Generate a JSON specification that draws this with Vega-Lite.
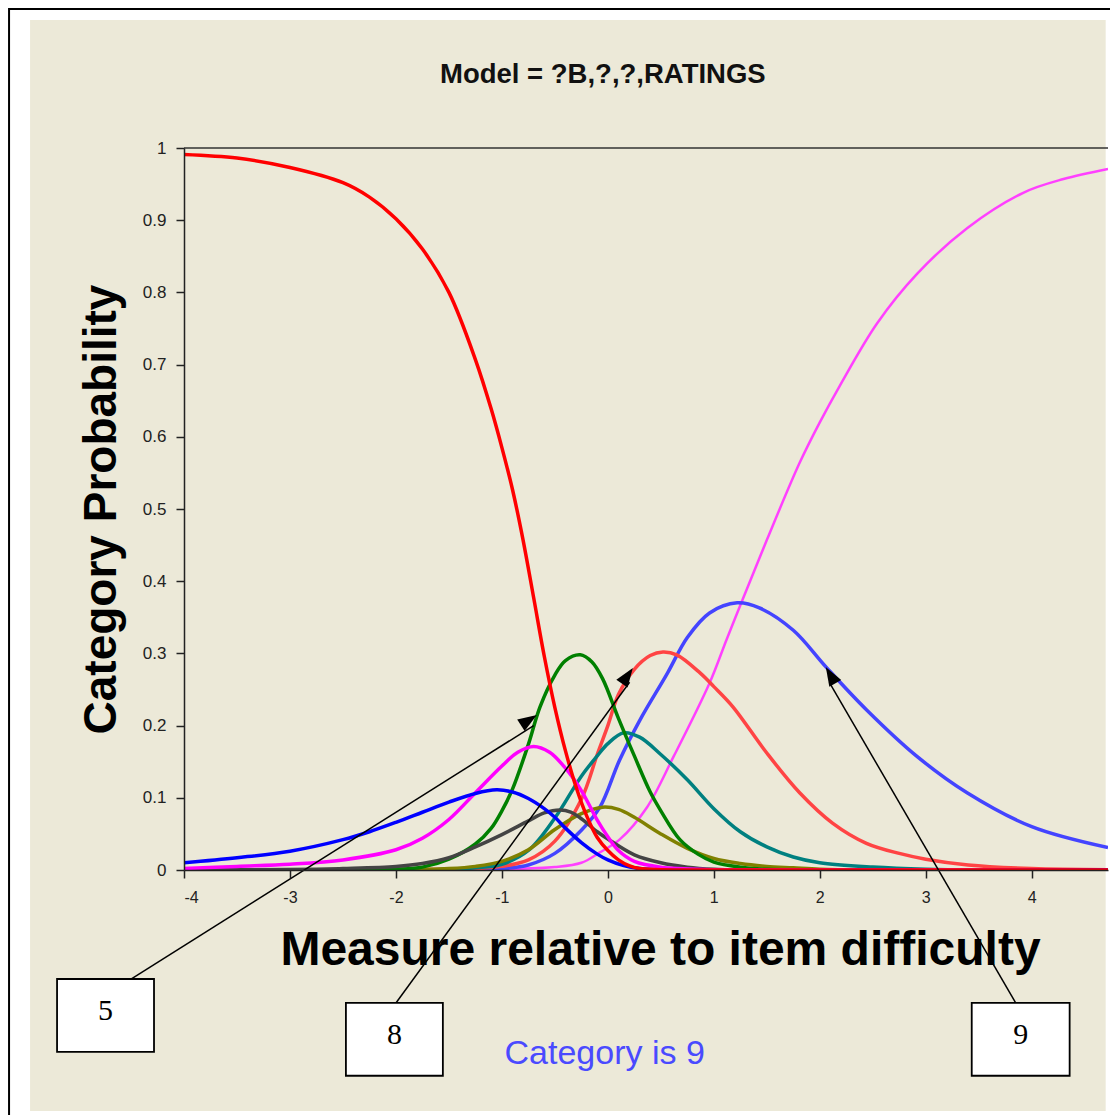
{
  "$schema": "https://vega.github.io/schema/vega-lite/v6.json",
  "width": 924,
  "height": 722,
  "autosize": {"type": "none"},
  "padding": {"left": 184, "top": 148, "right": 2, "bottom": 245},
  "background": "white",
  "config": {
    "view": {"stroke": null},
    "font": "Liberation Sans",
    "axis": {"labelFont": "Liberation Sans", "titleFont": "Liberation Sans", "grid": false}
  },
  "datasets": {
    "curves": [
      {"c":"10","x":-4,"p":0},{"c":"10","x":-1.5,"p":0.0003},{"c":"10","x":-1,"p":0.001},{"c":"10","x":-0.5,"p":0.004},{"c":"10","x":-0.25,"p":0.01},{"c":"10","x":-0.08,"p":0.024},{"c":"10","x":0.11,"p":0.042},{"c":"10","x":0.37,"p":0.087},{"c":"10","x":0.62,"p":0.157},{"c":"10","x":0.96,"p":0.259},{"c":"10","x":1.12,"p":0.319},{"c":"10","x":1.27,"p":0.374},{"c":"10","x":1.5,"p":0.457},{"c":"10","x":1.81,"p":0.564},{"c":"10","x":2.0,"p":0.62},{"c":"10","x":2.19,"p":0.671},{"c":"10","x":2.54,"p":0.757},{"c":"10","x":2.92,"p":0.826},{"c":"10","x":3.39,"p":0.889},{"c":"10","x":3.92,"p":0.938},{"c":"10","x":4.3,"p":0.957},{"c":"10","x":4.72,"p":0.971},
      {"c":"9","x":-4,"p":0},{"c":"9","x":-1.5,"p":0.0005},{"c":"9","x":-1,"p":0.002},{"c":"9","x":-0.75,"p":0.007},{"c":"9","x":-0.5,"p":0.023},{"c":"9","x":-0.25,"p":0.055},{"c":"9","x":-0.075,"p":0.087},{"c":"9","x":0.11,"p":0.152},{"c":"9","x":0.3,"p":0.207},{"c":"9","x":0.56,"p":0.272},{"c":"9","x":0.75,"p":0.322},{"c":"9","x":0.96,"p":0.356},{"c":"9","x":1.22,"p":0.37},{"c":"9","x":1.43,"p":0.363},{"c":"9","x":1.75,"p":0.332},{"c":"9","x":2.06,"p":0.281},{"c":"9","x":2.44,"p":0.222},{"c":"9","x":2.92,"p":0.157},{"c":"9","x":3.39,"p":0.107},{"c":"9","x":4.0,"p":0.06},{"c":"9","x":4.72,"p":0.031},
      {"c":"8","x":-4,"p":0},{"c":"8","x":-1.5,"p":0.001},{"c":"8","x":-1.25,"p":0.002},{"c":"8","x":-1,"p":0.005},{"c":"8","x":-0.75,"p":0.014},{"c":"8","x":-0.5,"p":0.04},{"c":"8","x":-0.25,"p":0.098},{"c":"8","x":-0.1,"p":0.16},{"c":"8","x":0,"p":0.2},{"c":"8","x":0.1,"p":0.243},{"c":"8","x":0.25,"p":0.278},{"c":"8","x":0.4,"p":0.297},{"c":"8","x":0.52,"p":0.302},{"c":"8","x":0.65,"p":0.298},{"c":"8","x":0.87,"p":0.273},{"c":"8","x":1.0,"p":0.254},{"c":"8","x":1.18,"p":0.226},{"c":"8","x":1.5,"p":0.162},{"c":"8","x":1.81,"p":0.107},{"c":"8","x":2.12,"p":0.065},{"c":"8","x":2.44,"p":0.037},{"c":"8","x":2.75,"p":0.023},{"c":"8","x":3.0,"p":0.015},{"c":"8","x":3.4,"p":0.007},{"c":"8","x":4.0,"p":0.002},{"c":"8","x":4.72,"p":0.0005},
      {"c":"7","x":-4,"p":0},{"c":"7","x":-1.75,"p":0},{"c":"7","x":-1.5,"p":0.001},{"c":"7","x":-1.25,"p":0.003},{"c":"7","x":-1,"p":0.008},{"c":"7","x":-0.75,"p":0.027},{"c":"7","x":-0.5,"p":0.072},{"c":"7","x":-0.25,"p":0.13},{"c":"7","x":-0.1,"p":0.158},{"c":"7","x":0,"p":0.175},{"c":"7","x":0.15,"p":0.19},{"c":"7","x":0.3,"p":0.184},{"c":"7","x":0.5,"p":0.16},{"c":"7","x":0.75,"p":0.125},{"c":"7","x":1.0,"p":0.085},{"c":"7","x":1.25,"p":0.053},{"c":"7","x":1.5,"p":0.032},{"c":"7","x":1.75,"p":0.018},{"c":"7","x":2.0,"p":0.01},{"c":"7","x":2.5,"p":0.004},{"c":"7","x":3.0,"p":0.001},{"c":"7","x":3.5,"p":0},{"c":"7","x":4.72,"p":0},
      {"c":"6","x":-4,"p":0},{"c":"6","x":-2,"p":0},{"c":"6","x":-1.5,"p":0.002},{"c":"6","x":-1.25,"p":0.005},{"c":"6","x":-1,"p":0.012},{"c":"6","x":-0.75,"p":0.028},{"c":"6","x":-0.5,"p":0.056},{"c":"6","x":-0.25,"p":0.078},{"c":"6","x":-0.05,"p":0.087},{"c":"6","x":0.1,"p":0.084},{"c":"6","x":0.25,"p":0.073},{"c":"6","x":0.5,"p":0.05},{"c":"6","x":0.75,"p":0.03},{"c":"6","x":1.0,"p":0.016},{"c":"6","x":1.25,"p":0.009},{"c":"6","x":1.5,"p":0.005},{"c":"6","x":1.75,"p":0.003},{"c":"6","x":2.0,"p":0.001},{"c":"6","x":2.5,"p":0},{"c":"6","x":4.72,"p":0},
      {"c":"5","x":-4,"p":0},{"c":"5","x":-2.25,"p":0},{"c":"5","x":-2,"p":0.001},{"c":"5","x":-1.75,"p":0.004},{"c":"5","x":-1.5,"p":0.015},{"c":"5","x":-1.25,"p":0.036},{"c":"5","x":-1.1,"p":0.058},{"c":"5","x":-1,"p":0.082},{"c":"5","x":-0.9,"p":0.112},{"c":"5","x":-0.75,"p":0.174},{"c":"5","x":-0.64,"p":0.226},{"c":"5","x":-0.5,"p":0.27},{"c":"5","x":-0.4,"p":0.29},{"c":"5","x":-0.26,"p":0.298},{"c":"5","x":-0.15,"p":0.288},{"c":"5","x":-0.05,"p":0.265},{"c":"5","x":0.1,"p":0.21},{"c":"5","x":0.25,"p":0.158},{"c":"5","x":0.4,"p":0.108},{"c":"5","x":0.5,"p":0.082},{"c":"5","x":0.68,"p":0.042},{"c":"5","x":0.85,"p":0.022},{"c":"5","x":1.0,"p":0.011},{"c":"5","x":1.25,"p":0.004},{"c":"5","x":1.5,"p":0.001},{"c":"5","x":2.0,"p":0},{"c":"5","x":4.72,"p":0},
      {"c":"4","x":-4,"p":0},{"c":"4","x":-2.75,"p":0.001},{"c":"4","x":-2.5,"p":0.002},{"c":"4","x":-2,"p":0.005},{"c":"4","x":-1.75,"p":0.009},{"c":"4","x":-1.5,"p":0.017},{"c":"4","x":-1.25,"p":0.032},{"c":"4","x":-1,"p":0.049},{"c":"4","x":-0.75,"p":0.068},{"c":"4","x":-0.6,"p":0.079},{"c":"4","x":-0.45,"p":0.083},{"c":"4","x":-0.35,"p":0.08},{"c":"4","x":-0.25,"p":0.071},{"c":"4","x":-0.1,"p":0.053},{"c":"4","x":0,"p":0.043},{"c":"4","x":0.25,"p":0.021},{"c":"4","x":0.5,"p":0.01},{"c":"4","x":0.75,"p":0.004},{"c":"4","x":1.0,"p":0.001},{"c":"4","x":1.25,"p":0},{"c":"4","x":4.72,"p":0},
      {"c":"3","x":-4,"p":0.002},{"c":"3","x":-3.5,"p":0.005},{"c":"3","x":-3,"p":0.008},{"c":"3","x":-2.5,"p":0.014},{"c":"3","x":-2,"p":0.028},{"c":"3","x":-1.75,"p":0.044},{"c":"3","x":-1.5,"p":0.07},{"c":"3","x":-1.25,"p":0.107},{"c":"3","x":-1,"p":0.144},{"c":"3","x":-0.85,"p":0.163},{"c":"3","x":-0.7,"p":0.171},{"c":"3","x":-0.55,"p":0.163},{"c":"3","x":-0.4,"p":0.141},{"c":"3","x":-0.25,"p":0.11},{"c":"3","x":-0.1,"p":0.069},{"c":"3","x":0,"p":0.046},{"c":"3","x":0.1,"p":0.027},{"c":"3","x":0.25,"p":0.012},{"c":"3","x":0.5,"p":0.004},{"c":"3","x":1.0,"p":0.0005},{"c":"3","x":1.5,"p":0},{"c":"3","x":4.72,"p":0},
      {"c":"2","x":-4,"p":0.01},{"c":"2","x":-3.5,"p":0.017},{"c":"2","x":-3,"p":0.026},{"c":"2","x":-2.5,"p":0.042},{"c":"2","x":-2.25,"p":0.053},{"c":"2","x":-2,"p":0.066},{"c":"2","x":-1.75,"p":0.08},{"c":"2","x":-1.5,"p":0.094},{"c":"2","x":-1.25,"p":0.106},{"c":"2","x":-1.05,"p":0.111},{"c":"2","x":-0.9,"p":0.108},{"c":"2","x":-0.75,"p":0.099},{"c":"2","x":-0.6,"p":0.085},{"c":"2","x":-0.5,"p":0.073},{"c":"2","x":-0.4,"p":0.058},{"c":"2","x":-0.25,"p":0.038},{"c":"2","x":-0.1,"p":0.022},{"c":"2","x":0,"p":0.014},{"c":"2","x":0.15,"p":0.006},{"c":"2","x":0.3,"p":0.002},{"c":"2","x":0.5,"p":0},{"c":"2","x":4.72,"p":0},
      {"c":"1","x":-4,"p":0.991},{"c":"1","x":-3.5,"p":0.986},{"c":"1","x":-3,"p":0.973},{"c":"1","x":-2.5,"p":0.952},{"c":"1","x":-2.25,"p":0.932},{"c":"1","x":-2,"p":0.902},{"c":"1","x":-1.75,"p":0.86},{"c":"1","x":-1.5,"p":0.8},{"c":"1","x":-1.25,"p":0.707},{"c":"1","x":-1.1,"p":0.638},{"c":"1","x":-1,"p":0.585},{"c":"1","x":-0.9,"p":0.527},{"c":"1","x":-0.8,"p":0.457},{"c":"1","x":-0.7,"p":0.377},{"c":"1","x":-0.6,"p":0.296},{"c":"1","x":-0.5,"p":0.225},{"c":"1","x":-0.4,"p":0.165},{"c":"1","x":-0.3,"p":0.115},{"c":"1","x":-0.2,"p":0.075},{"c":"1","x":-0.1,"p":0.045},{"c":"1","x":0,"p":0.027},{"c":"1","x":0.1,"p":0.014},{"c":"1","x":0.2,"p":0.006},{"c":"1","x":0.3,"p":0.002},{"c":"1","x":0.5,"p":0.0004},{"c":"1","x":1,"p":0},{"c":"1","x":2,"p":0},{"c":"1","x":3,"p":0},{"c":"1","x":4,"p":0},{"c":"1","x":4.72,"p":0}
    ]
  },
  "layer": [
    {
      "data": {"values": [{}]},
      "mark": {"type": "rect", "fill": "#ECE9D8", "clip": false},
      "encoding": {
        "x": {
          "datum": -5.4528, "type": "quantitative",
          "scale": {"domain": [-4, 4.72], "nice": false, "zero": false},
          "axis": {
            "values": [-4, -3, -2, -1, 0, 1, 2, 3, 4],
            "labelExpr": "'' + datum.value",
            "labelFontSize": 16, "labelColor": "#222222", "labelPadding": 11,
            "tickSize": 8, "tickColor": "#222222", "tickWidth": 1.5,
            "domainColor": "#222222", "domainWidth": 1.5, "grid": false,
            "title": "Measure relative to item difficulty",
            "titleFontSize": 48, "titleFontWeight": "bold", "titleColor": "black",
            "titlePadding": 21, "titleX": 476, "zindex": 1
          }
        },
        "x2": {"datum": 4.6981},
        "y": {
          "datum": 1.1773, "type": "quantitative",
          "scale": {"domain": [0, 1], "nice": false, "zero": false},
          "axis": {
            "values": [0, 0.1, 0.2, 0.3, 0.4, 0.5, 0.6, 0.7, 0.8, 0.9, 1],
            "format": "~g",
            "labelFontSize": 17, "labelColor": "#222222", "labelPadding": 10,
            "tickSize": 8, "tickColor": "#222222", "tickWidth": 1.5,
            "domainColor": "#222222", "domainWidth": 1.5, "grid": false,
            "title": "Category Probability",
            "titleFontSize": 46, "titleFontWeight": "bold", "titleColor": "black",
            "titlePadding": 17, "zindex": 1
          }
        },
        "y2": {"datum": -0.3338}
      }
    },
    {
      "data": {"values": [{}]},
      "mark": {"type": "rect", "fill": null, "fillOpacity": 0, "stroke": "black", "strokeWidth": 2, "clip": false},
      "encoding": {
        "x": {"datum": -5.651, "type": "quantitative"},
        "x2": {"datum": 4.93},
        "y": {"datum": 1.1925, "type": "quantitative"},
        "y2": {"datum": -0.36}
      }
    },
    {
      "data": {"values": [{}]},
      "mark": {"type": "text", "text": "Model = ?B,?,?,RATINGS", "font": "Liberation Sans", "fontSize": 27.5, "fontWeight": "bold", "color": "#111111", "align": "center", "baseline": "middle", "clip": false},
      "encoding": {
        "x": {"datum": -0.047, "type": "quantitative"},
        "y": {"datum": 1.1011, "type": "quantitative"}
      }
    },
    {
      "data": {"values": [{}]},
      "mark": {"type": "rule", "color": "#333333", "strokeWidth": 1.5},
      "encoding": {
        "y": {"datum": 1, "type": "quantitative"}
      }
    },
    {
      "data": {"name": "curves"},
      "transform": [{"filter": "datum.c === '10'"}],
      "mark": {"type": "line", "interpolate": "catmull-rom", "clip": true, "strokeWidth": 2.5, "color": "#ff40ff"},
      "encoding": {
        "x": {"field": "x", "type": "quantitative"},
        "y": {"field": "p", "type": "quantitative"}
      }
    },
    {
      "data": {"name": "curves"},
      "transform": [{"filter": "datum.c !== '10'"}],
      "mark": {"type": "line", "interpolate": "catmull-rom", "clip": true, "strokeWidth": 3.5},
      "encoding": {
        "x": {"field": "x", "type": "quantitative"},
        "y": {"field": "p", "type": "quantitative"},
        "color": {
          "field": "c", "type": "nominal",
          "scale": {
            "domain": ["9", "8", "7", "6", "5", "4", "3", "2", "1"],
            "range": ["#4444ff", "#ff4444", "#008080", "#808000", "#008000", "#444444", "#ff00ff", "#0000ff", "#ff0000"]
          },
          "legend": null
        }
      }
    },
    {
      "data": {"values": [{}]},
      "mark": {"type": "rule", "color": "black", "strokeWidth": 1.5, "clip": false},
      "encoding": {
        "x": {"datum": -4.5, "type": "quantitative"},
        "y": {"datum": -0.151, "type": "quantitative"},
        "x2": {"datum": -0.70},
        "y2": {"datum": 0.2}
      }
    },
    {
      "data": {"values": [{}]},
      "mark": {"type": "rule", "color": "black", "strokeWidth": 1.5, "clip": false},
      "encoding": {
        "x": {"datum": -2.0, "type": "quantitative"},
        "y": {"datum": -0.1842, "type": "quantitative"},
        "x2": {"datum": 0.205},
        "y2": {"datum": 0.26}
      }
    },
    {
      "data": {"values": [{}]},
      "mark": {"type": "rule", "color": "black", "strokeWidth": 1.5, "clip": false},
      "encoding": {
        "x": {"datum": 3.849, "type": "quantitative"},
        "y": {"datum": -0.1842, "type": "quantitative"},
        "x2": {"datum": 2.09},
        "y2": {"datum": 0.26}
      }
    },
    {
      "data": {"values": [{}]},
      "mark": {"type": "point", "shape": "M0,0L0.36,1L-0.36,1Z", "size": 1444, "filled": true, "color": "black", "opacity": 1, "angle": 57, "clip": false},
      "encoding": {
        "x": {"datum": -0.67, "type": "quantitative"},
        "y": {"datum": 0.2147, "type": "quantitative"}
      }
    },
    {
      "data": {"values": [{}]},
      "mark": {"type": "point", "shape": "M0,0L0.36,1L-0.36,1Z", "size": 1444, "filled": true, "color": "black", "opacity": 1, "angle": 35, "clip": false},
      "encoding": {
        "x": {"datum": 0.2358, "type": "quantitative"},
        "y": {"datum": 0.2798, "type": "quantitative"}
      }
    },
    {
      "data": {"values": [{}]},
      "mark": {"type": "point", "shape": "M0,0L0.36,1L-0.36,1Z", "size": 1444, "filled": true, "color": "black", "opacity": 1, "angle": 330, "clip": false},
      "encoding": {
        "x": {"datum": 2.0566, "type": "quantitative"},
        "y": {"datum": 0.2812, "type": "quantitative"}
      }
    },
    {
      "data": {"values": [{}]},
      "mark": {"type": "rect", "fill": "white", "stroke": "black", "strokeWidth": 1.8, "clip": false},
      "encoding": {
        "x": {"datum": -5.198, "type": "quantitative"},
        "x2": {"datum": -4.283},
        "y": {"datum": -0.151, "type": "quantitative"},
        "y2": {"datum": -0.252}
      }
    },
    {
      "data": {"values": [{}]},
      "mark": {"type": "rect", "fill": "white", "stroke": "black", "strokeWidth": 1.8, "clip": false},
      "encoding": {
        "x": {"datum": -2.472, "type": "quantitative"},
        "x2": {"datum": -1.557},
        "y": {"datum": -0.184, "type": "quantitative"},
        "y2": {"datum": -0.285}
      }
    },
    {
      "data": {"values": [{}]},
      "mark": {"type": "rect", "fill": "white", "stroke": "black", "strokeWidth": 1.8, "clip": false},
      "encoding": {
        "x": {"datum": 3.434, "type": "quantitative"},
        "x2": {"datum": 4.358},
        "y": {"datum": -0.184, "type": "quantitative"},
        "y2": {"datum": -0.285}
      }
    },
    {
      "data": {"values": [{}]},
      "mark": {"type": "text", "text": "5", "font": "Liberation Serif", "fontSize": 30, "color": "black", "align": "center", "baseline": "middle", "clip": false},
      "encoding": {
        "x": {"datum": -4.741, "type": "quantitative"},
        "y": {"datum": -0.1953, "type": "quantitative"}
      }
    },
    {
      "data": {"values": [{}]},
      "mark": {"type": "text", "text": "8", "font": "Liberation Serif", "fontSize": 30, "color": "black", "align": "center", "baseline": "middle", "clip": false},
      "encoding": {
        "x": {"datum": -2.014, "type": "quantitative"},
        "y": {"datum": -0.2285, "type": "quantitative"}
      }
    },
    {
      "data": {"values": [{}]},
      "mark": {"type": "text", "text": "9", "font": "Liberation Serif", "fontSize": 30, "color": "black", "align": "center", "baseline": "middle", "clip": false},
      "encoding": {
        "x": {"datum": 3.896, "type": "quantitative"},
        "y": {"datum": -0.2285, "type": "quantitative"}
      }
    },
    {
      "data": {"values": [{}]},
      "mark": {"type": "text", "text": "Category is 9", "font": "Liberation Sans", "fontSize": 34, "color": "#4a4aff", "align": "center", "baseline": "middle", "clip": false},
      "encoding": {
        "x": {"datum": -0.03, "type": "quantitative"},
        "y": {"datum": -0.2548, "type": "quantitative"}
      }
    }
  ]
}
